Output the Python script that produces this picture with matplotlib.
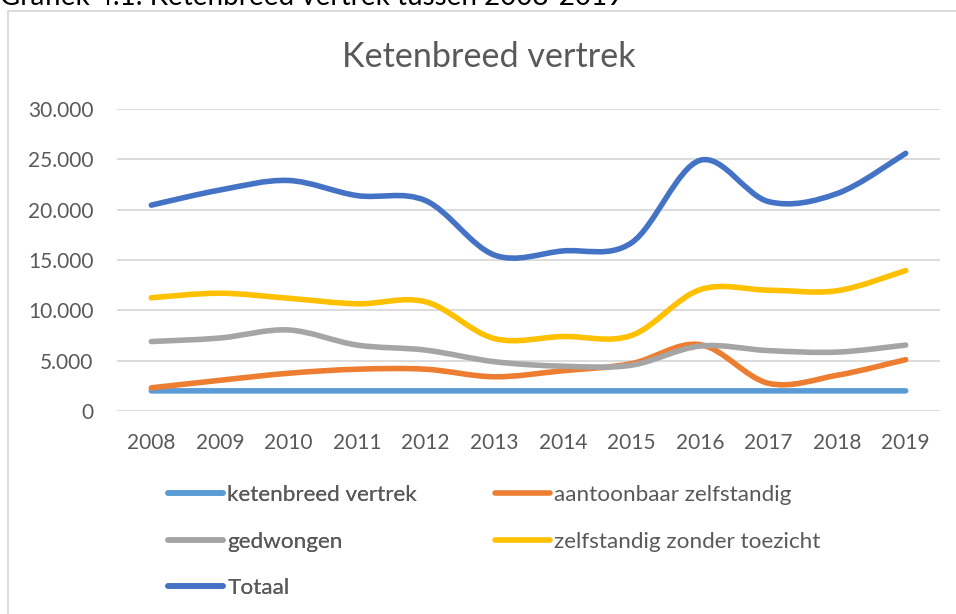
import matplotlib

matplotlib.use("Agg")
import matplotlib.pyplot as plt
from matplotlib.lines import Line2D
from matplotlib.patches import PathPatch, Rectangle
from matplotlib.path import Path
from matplotlib.ticker import FuncFormatter

YEARS = ["2008", "2009", "2010", "2011", "2012", "2013",
         "2014", "2015", "2016", "2017", "2018", "2019"]

KETENBREED = [2000, 2000, 2000, 2000, 2000, 2000, 2000, 2000, 2000, 2000, 2000, 2000]
AANTOONBAAR = [2300, 3050, 3750, 4150, 4150, 3400, 4000, 4700, 6600, 2750, 3550, 5100]
GEDWONGEN = [6900, 7250, 8050, 6550, 6050, 4900, 4450, 4550, 6450, 6000, 5850, 6550]
ZONDER_TOEZICHT = [11250, 11700, 11200, 10650, 10850, 7200, 7400, 7500, 12050, 12000, 11950, 13950]
TOTAAL = [20450, 21950, 22900, 21400, 20900, 15500, 15900, 16700, 24900, 20800, 21600, 25600]

SERIES = [
    ("ketenbreed vertrek", KETENBREED, "#5B9BD5"),
    ("aantoonbaar zelfstandig", AANTOONBAAR, "#ED7D31"),
    ("gedwongen", GEDWONGEN, "#A5A5A5"),
    ("zelfstandig zonder toezicht", ZONDER_TOEZICHT, "#FFC000"),
    ("Totaal", TOTAAL, "#4472C4"),
]

FONT = "Lato"
TEXT_COLOR = "#595959"
W, H = 956, 614


def smooth_path(xs, ys):
    # Excel-like smoothed line: cubic Bezier through every point (Catmull-Rom tangents)
    pts = list(zip(xs, ys))
    verts = [pts[0]]
    codes = [Path.MOVETO]
    n = len(pts)
    for i in range(n - 1):
        p0 = pts[max(i - 1, 0)]
        p1 = pts[i]
        p2 = pts[i + 1]
        p3 = pts[min(i + 2, n - 1)]
        c1 = (p1[0] + (p2[0] - p0[0]) / 6, p1[1] + (p2[1] - p0[1]) / 6)
        c2 = (p2[0] - (p3[0] - p1[0]) / 6, p2[1] - (p3[1] - p1[1]) / 6)
        verts += [c1, c2, p2]
        codes += [Path.CURVE4] * 3
    return Path(verts, codes)


def fx(px):
    return px / W


def fy(py):
    return 1 - py / H


plt.rcParams["font.family"] = [FONT, "DejaVu Sans"]

fig = plt.figure(figsize=(W / 100, H / 100), dpi=100)

# chart frame and the caption above it, cut off by the top edge as in the source
fig.add_artist(Rectangle((fx(8), fy(H + 20)), fx(W + 20), fy(10.5) - fy(H + 20),
                         transform=fig.transFigure, fill=False,
                         edgecolor="#d9d9d9", linewidth=1.3))
fig.text(fx(0), fy(5), "Grafiek 4.1: Ketenbreed vertrek tussen 2008-2019",
         fontsize=20, color="#000000", ha="left", va="baseline")

ax = fig.add_axes([fx(117), fy(411), fx(940) - fx(117), fy(109) - fy(411)])

x = list(range(len(YEARS)))
handles = []
for label, values, color in SERIES:
    patch = PathPatch(smooth_path(x, values), fill=False, edgecolor=color,
                      linewidth=4.0, capstyle="round", joinstyle="round", zorder=3)
    ax.add_patch(patch)
    handles.append(Line2D([], [], color=color, linewidth=4.0,
                          solid_capstyle="round", label=label))

ax.set_xlim(-0.5, len(YEARS) - 0.5)
ax.set_ylim(0, 30000)
ax.set_yticks(range(0, 30001, 5000))
ax.yaxis.set_major_formatter(FuncFormatter(lambda v, _: f"{int(v):,}".replace(",", ".")))
ax.set_xticks(x)
ax.set_xticklabels(YEARS)
ax.tick_params(axis="both", length=0, labelsize=15, labelcolor=TEXT_COLOR)
ax.tick_params(axis="y", pad=17)
ax.tick_params(axis="x", pad=16)
ax.grid(True, axis="y", color="#d9d9d9", linewidth=1.3)
ax.set_axisbelow(True)
for spine in ax.spines.values():
    spine.set_visible(False)

fig.text(fx(489), fy(67), "Ketenbreed vertrek", fontsize=24.6,
         color=TEXT_COLOR, ha="center", va="baseline")

legend_kw = dict(frameon=False, fontsize=16.2, labelcolor=TEXT_COLOR,
                 handlelength=2.45, handletextpad=0.18, labelspacing=1.18,
                 borderpad=0, borderaxespad=0, loc="upper left")
leg1 = fig.legend(handles=[handles[0], handles[2], handles[4]],
                  bbox_to_anchor=(fx(168), fy(485)), **legend_kw)
fig.add_artist(leg1)
fig.legend(handles=[handles[1], handles[3]],
           bbox_to_anchor=(fx(495), fy(485)), **legend_kw)

fig.savefig("out.png", dpi=100)
